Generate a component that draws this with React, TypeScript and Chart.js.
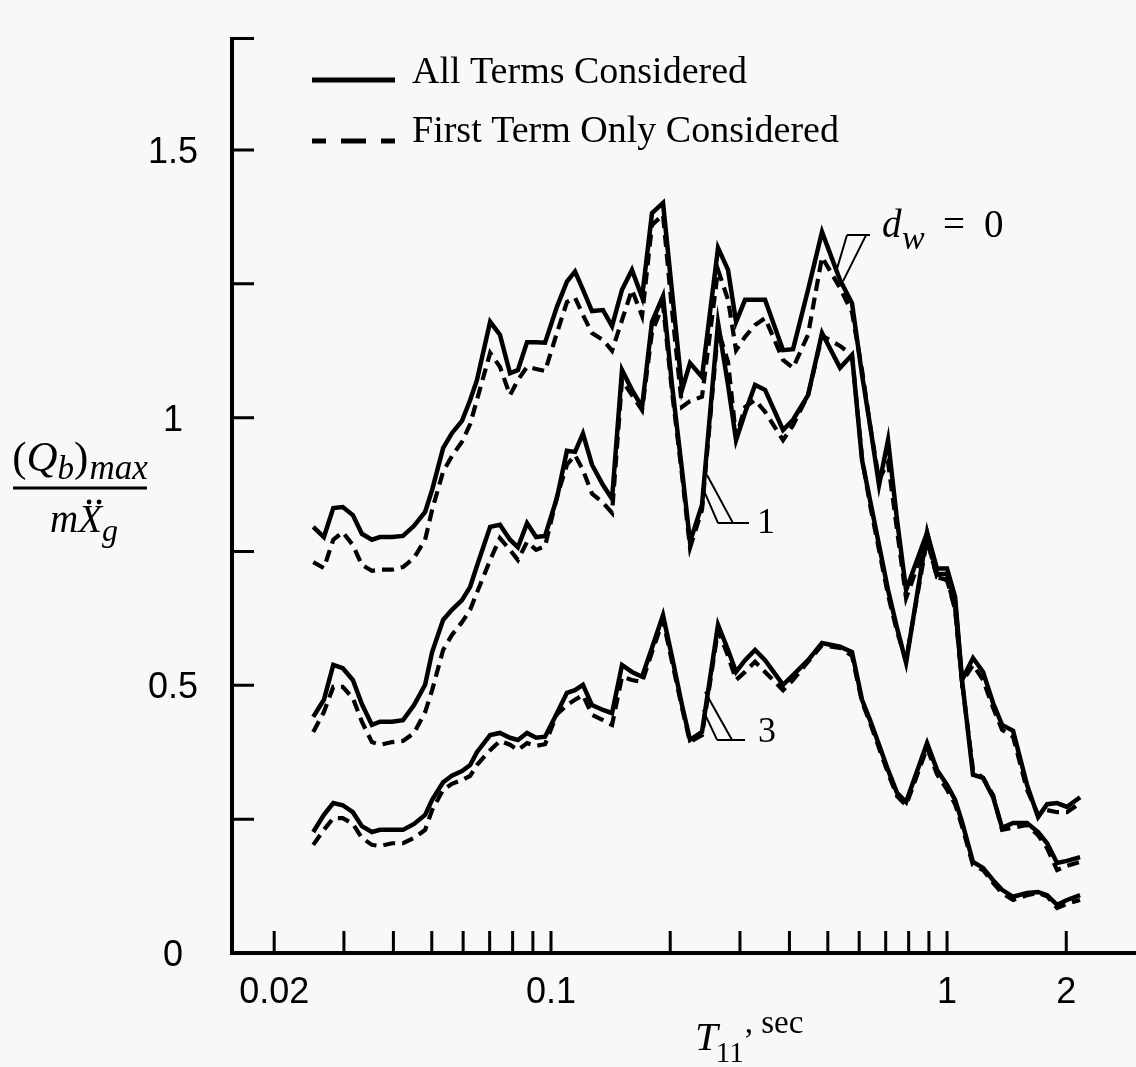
import React, { useEffect, useRef } from "react";
import { Chart, registerables } from "chart.js";

Chart.register(...registerables);

// ---------- data (period T11 in seconds, normalised base shear) ----------
const periods = [
  0.0251, 0.0267, 0.0282, 0.0298, 0.0316, 0.0333, 0.0353, 0.037, 0.0397, 0.0423,
  0.0451, 0.0481, 0.0501, 0.0534, 0.0562, 0.0596, 0.0625, 0.065, 0.0702, 0.0743,
  0.0788, 0.0825, 0.087, 0.0917, 0.0966, 0.1035, 0.1097, 0.115, 0.1204, 0.1269,
  0.1353, 0.1426, 0.1511, 0.1601, 0.1698, 0.1799, 0.1918, 0.2021, 0.2142, 0.2244,
  0.2406, 0.2641, 0.2799, 0.2933, 0.309, 0.3275, 0.3471, 0.3854, 0.4085, 0.4457,
  0.4834, 0.5368, 0.5755, 0.61, 0.6391, 0.6734, 0.7096, 0.7478, 0.788, 0.8903,
  0.9435, 1.0, 1.048, 1.091, 1.163, 1.233, 1.307, 1.377, 1.468, 1.592,
  1.698, 1.789, 1.896, 2.009, 2.167,
];

const allTermsDw0 = [
  0.796, 0.777, 0.831, 0.833, 0.818, 0.783, 0.772, 0.777, 0.777, 0.779,
  0.798, 0.824, 0.865, 0.943, 0.971, 0.994, 1.033, 1.07, 1.179, 1.155,
  1.083, 1.089, 1.141, 1.141, 1.14, 1.207, 1.254, 1.273, 1.239, 1.199,
  1.201, 1.171, 1.239, 1.276, 1.225, 1.382, 1.401, 1.235, 1.052, 1.102,
  1.076, 1.317, 1.276, 1.179, 1.22, 1.22, 1.22, 1.126, 1.128, 1.239,
  1.347, 1.257, 1.214, 1.08, 0.986, 0.874, 0.958, 0.809, 0.678, 0.785,
  0.718, 0.718, 0.665, 0.51, 0.551, 0.525, 0.467, 0.426, 0.415, 0.314,
  0.254, 0.278, 0.28, 0.273, 0.291,
];

const firstTermDw0 = [
  0.73, 0.719, 0.772, 0.786, 0.762, 0.725, 0.714, 0.716, 0.716, 0.721,
  0.738, 0.772, 0.828, 0.899, 0.928, 0.955, 0.988, 1.033, 1.121, 1.095,
  1.042, 1.07, 1.095, 1.091, 1.087, 1.158, 1.216, 1.224, 1.192, 1.158,
  1.145, 1.125, 1.182, 1.239, 1.19, 1.36, 1.379, 1.201, 1.02, 1.031,
  1.039, 1.276, 1.22, 1.126, 1.151, 1.173, 1.186, 1.108, 1.093, 1.155,
  1.3, 1.242, 1.197, 1.089, 0.986, 0.884, 0.917, 0.79, 0.663, 0.772,
  0.702, 0.697, 0.641, 0.506, 0.538, 0.51, 0.458, 0.417, 0.404, 0.305,
  0.258, 0.267, 0.263, 0.263, 0.28,
];

const allTermsDw1 = [
  0.441, 0.473, 0.538, 0.532, 0.51, 0.465, 0.426, 0.432, 0.432, 0.435,
  0.463, 0.501, 0.562, 0.622, 0.641, 0.659, 0.684, 0.723, 0.796, 0.8,
  0.772, 0.758, 0.803, 0.777, 0.779, 0.85, 0.938, 0.936, 0.97, 0.912,
  0.874, 0.848, 1.089, 1.052, 1.02, 1.179, 1.227, 1.061, 0.902, 0.768,
  0.837, 1.177, 1.061, 0.958, 1.009, 1.061, 1.052, 0.977, 0.996, 1.042,
  1.158, 1.093, 1.117, 0.921, 0.846, 0.762, 0.678, 0.607, 0.542, 0.785,
  0.708, 0.708, 0.655, 0.51, 0.333, 0.327, 0.291, 0.234, 0.243, 0.243,
  0.226, 0.205, 0.168, 0.172, 0.179,
];

const firstTermDw1 = [
  0.413, 0.45, 0.497, 0.497, 0.476, 0.432, 0.394, 0.389, 0.394, 0.396,
  0.411, 0.45, 0.491, 0.566, 0.594, 0.618, 0.641, 0.673, 0.734, 0.775,
  0.753, 0.734, 0.768, 0.753, 0.76, 0.852, 0.912, 0.93, 0.902, 0.858,
  0.841, 0.822, 1.07, 1.042, 1.014, 1.16, 1.211, 1.048, 0.893, 0.757,
  0.828, 1.164, 1.104, 0.964, 1.02, 1.033, 1.011, 0.958, 0.986, 1.042,
  1.153, 1.134, 1.117, 0.925, 0.837, 0.753, 0.669, 0.6, 0.547, 0.772,
  0.702, 0.697, 0.645, 0.506, 0.342, 0.327, 0.295, 0.23, 0.234, 0.239,
  0.22, 0.196, 0.155, 0.163, 0.17,
];

const allTermsDw3 = [
  0.226, 0.258, 0.28, 0.276, 0.263, 0.237, 0.226, 0.23, 0.23, 0.23,
  0.241, 0.258, 0.286, 0.319, 0.331, 0.34, 0.351, 0.375, 0.407, 0.411,
  0.402, 0.398, 0.411, 0.402, 0.404, 0.448, 0.486, 0.491, 0.501, 0.463,
  0.454, 0.448, 0.538, 0.525, 0.516, 0.57, 0.631, 0.553, 0.463, 0.398,
  0.413, 0.613, 0.566, 0.525, 0.547, 0.566, 0.547, 0.501, 0.519, 0.547,
  0.579, 0.572, 0.562, 0.473, 0.435, 0.389, 0.342, 0.299, 0.282, 0.392,
  0.342, 0.314, 0.286, 0.245, 0.17, 0.159, 0.136, 0.118, 0.105, 0.112,
  0.114, 0.108, 0.09, 0.099, 0.108,
];

const firstTermDw3 = [
  0.202, 0.23, 0.252, 0.252, 0.241, 0.215, 0.202, 0.2, 0.205, 0.205,
  0.215, 0.23, 0.267, 0.305, 0.316, 0.323, 0.331, 0.351, 0.379, 0.396,
  0.389, 0.379, 0.392, 0.387, 0.39, 0.446, 0.463, 0.473, 0.482, 0.445,
  0.435, 0.426, 0.516, 0.51, 0.506, 0.562, 0.622, 0.544, 0.458, 0.394,
  0.407, 0.603, 0.555, 0.51, 0.525, 0.544, 0.525, 0.491, 0.51, 0.544,
  0.575, 0.57, 0.555, 0.469, 0.43, 0.383, 0.336, 0.293, 0.276, 0.383,
  0.334, 0.305, 0.278, 0.237, 0.164, 0.155, 0.131, 0.112, 0.099, 0.108,
  0.112, 0.106, 0.084, 0.092, 0.099,
];

// ---------- axes ----------
const X_MIN = 0.01565;
const X_MAX = 3.0;
const Y_MIN = 0;
const Y_MAX = 1.711;

const yTickValues = [0.25, 0.5, 0.75, 1, 1.25, 1.5, Y_MAX];
const yLabelValues = [0, 0.5, 1, 1.5];
const yLabelTexts = ["0", "0.5", "1", "1.5"];
const xTickValues = [
  0.02, 0.03, 0.04, 0.05, 0.06, 0.07, 0.08, 0.09, 0.1,
  0.2, 0.3, 0.4, 0.5, 0.6, 0.7, 0.8, 0.9, 1, 2,
];
const xLabelValues = [0.02, 0.1, 1, 2];
const xLabelTexts = ["0.02", "0.1", "1", "2"];

const legendLabels = ["All Terms Considered", "First Term Only Considered"];

// ---------- annotations (data coordinates) ----------
const leaderDw0: number[][][] = [
  [[0.559, 1.341], [0.639, 1.341]],
  [[0.559, 1.341], [0.5244, 1.272]],
  [[0.6245, 1.341], [0.5463, 1.255]],
];
const labelDw0Anchor = [0.6853, 1.3376];

const leaderDw1: number[][][] = [
  [[0.2641, 0.803], [0.3162, 0.803]],
  [[0.2641, 0.803], [0.2448, 0.859]],
  [[0.2881, 0.803], [0.2477, 0.893]],
];
const labelDw1Anchor = [0.3313, 0.785];
const labelDw1Text = "1";

const leaderDw3: number[][][] = [
  [[0.2626, 0.398], [0.309, 0.398]],
  [[0.2626, 0.398], [0.2419, 0.454]],
  [[0.2865, 0.398], [0.2448, 0.488]],
];
const labelDw3Anchor = [0.3332, 0.394];
const labelDw3Text = "3";

const BG = "#f8f8f8";
const INK = "#000000";
const SERIF = "'Liberation Serif', 'Times New Roman', serif";
const SANS = "'Liberation Sans', Arial, sans-serif";

const pts = (ys: number[]) => periods.map((x, i) => ({ x, y: ys[i] }));

type Part = { t: string; font: string; y: number; kern?: number };

function partsWidth(ctx: CanvasRenderingContext2D, parts: Part[]) {
  let w = 0;
  for (const p of parts) {
    ctx.font = p.font;
    w += ctx.measureText(p.t).width + (p.kern || 0);
  }
  return w;
}

function drawParts(ctx: CanvasRenderingContext2D, parts: Part[], x0: number) {
  let x = x0;
  const starts: number[] = [];
  for (const p of parts) {
    ctx.font = p.font;
    ctx.textAlign = "left";
    ctx.textBaseline = "alphabetic";
    starts.push(x);
    ctx.fillText(p.t, x, p.y);
    x += ctx.measureText(p.t).width + (p.kern || 0);
  }
  return starts;
}

const overlayPlugin = {
  id: "overlay",
  beforeDraw(chart: any) {
    const ctx = chart.ctx as CanvasRenderingContext2D;
    ctx.save();
    ctx.fillStyle = BG;
    ctx.fillRect(0, 0, chart.width, chart.height);
    ctx.restore();
  },
  afterDraw(chart: any) {
    const ctx = chart.ctx as CanvasRenderingContext2D;
    const xs = chart.scales.x;
    const ys = chart.scales.y;
    const { left, right, top, bottom } = chart.chartArea;
    const px = (v: number) => xs.getPixelForValue(v);
    const py = (v: number) => ys.getPixelForValue(v);

    ctx.save();
    ctx.strokeStyle = INK;
    ctx.fillStyle = INK;
    ctx.lineCap = "butt";

    // axis lines
    ctx.lineWidth = 4;
    ctx.beginPath();
    ctx.moveTo(left, top);
    ctx.lineTo(left, py(0) + 2);
    ctx.moveTo(left - 2, py(0));
    ctx.lineTo(right, py(0));
    ctx.stroke();

    // inward ticks
    ctx.lineWidth = 3;
    ctx.beginPath();
    for (const v of yTickValues) {
      const y = Math.max(py(v), top + 1.5);
      ctx.moveTo(left, y);
      ctx.lineTo(left + 22, y);
    }
    for (const t of xTickValues) {
      const x = px(t);
      ctx.moveTo(x, bottom);
      ctx.lineTo(x, bottom - 22);
    }
    ctx.stroke();

    // tick labels
    ctx.font = `36px ${SANS}`;
    ctx.textAlign = "center";
    ctx.textBaseline = "alphabetic";
    yLabelValues.forEach((v, i) => {
      ctx.fillText(yLabelTexts[i], left - 59, py(v) + 13);
    });
    xLabelValues.forEach((t, i) => {
      ctx.fillText(xLabelTexts[i], px(t), bottom + 50);
    });

    // legend
    const lx0 = left + 80;
    const lx1 = left + 163;
    ctx.lineWidth = 5;
    ctx.beginPath();
    ctx.moveTo(lx0, top + 43);
    ctx.lineTo(lx1, top + 43);
    ctx.stroke();
    ctx.setLineDash([25, 15]);
    ctx.lineDashOffset = 11;
    ctx.beginPath();
    ctx.moveTo(lx0, top + 104);
    ctx.lineTo(lx1, top + 104);
    ctx.stroke();
    ctx.setLineDash([]);
    ctx.lineDashOffset = 0;
    ctx.font = `38px ${SERIF}`;
    ctx.textAlign = "left";
    ctx.fillText(legendLabels[0], left + 180, top + 46);
    ctx.fillText(legendLabels[1], left + 180, top + 105);

    // y-axis title: (Q_b)_max / m X.. _g
    const cx = 80;
    const num: Part[] = [
      { t: "(", font: `43px ${SERIF}`, y: 471 },
      { t: "Q", font: `italic 43px ${SERIF}`, y: 471 },
      { t: "b", font: `italic 33px ${SERIF}`, y: 479 },
      { t: ")", font: `43px ${SERIF}`, y: 471, kern: 1 },
      { t: "max", font: `italic 35px ${SERIF}`, y: 479 },
    ];
    const nw = partsWidth(ctx, num);
    drawParts(ctx, num, cx - nw / 2);
    ctx.lineWidth = 3;
    ctx.beginPath();
    ctx.moveTo(cx - 67, 488);
    ctx.lineTo(cx + 67, 488);
    ctx.stroke();
    const den: Part[] = [
      { t: "m", font: `italic 39px ${SERIF}`, y: 532 },
      { t: "X", font: `italic 39px ${SERIF}`, y: 532 },
      { t: "g", font: `italic 32px ${SERIF}`, y: 541 },
    ];
    const dw = partsWidth(ctx, den);
    const starts = drawParts(ctx, den, cx - dw / 2 + 4);
    ctx.font = `italic 39px ${SERIF}`;
    const wX = ctx.measureText("X").width;
    const dotCx = starts[1] + wX * 0.5 + 4;
    for (const dx of [-5, 5]) {
      ctx.beginPath();
      ctx.arc(dotCx + dx, 502, 2.4, 0, Math.PI * 2);
      ctx.fill();
    }

    // x-axis title: T_11, sec
    const xt: Part[] = [
      { t: "T", font: `italic 41px ${SERIF}`, y: 1050, kern: -2 },
      { t: "11", font: `29px ${SERIF}`, y: 1062, kern: 1 },
      { t: ", sec", font: `33px ${SERIF}`, y: 1033 },
    ];
    drawParts(ctx, xt, 695);

    // leader lines
    ctx.lineWidth = 2;
    ctx.beginPath();
    for (const seg of [...leaderDw0, ...leaderDw1, ...leaderDw3]) {
      ctx.moveTo(px(seg[0][0]), py(seg[0][1]));
      ctx.lineTo(px(seg[1][0]), py(seg[1][1]));
    }
    ctx.stroke();

    // d_w = 0
    const ax = px(labelDw0Anchor[0]);
    const ay = py(labelDw0Anchor[1]);
    ctx.textAlign = "left";
    ctx.font = `italic 39px ${SERIF}`;
    ctx.fillText("d", ax, ay);
    ctx.font = `italic 34px ${SERIF}`;
    ctx.fillText("w", ax + 20, ay + 12);
    ctx.font = `39px ${SERIF}`;
    ctx.fillText("=", ax + 61, ay);
    ctx.fillText("0", ax + 102, ay);

    // curve labels 1 and 3
    ctx.font = `36px ${SERIF}`;
    ctx.fillText(labelDw1Text, px(labelDw1Anchor[0]), py(labelDw1Anchor[1]));
    ctx.fillText(labelDw3Text, px(labelDw3Anchor[0]), py(labelDw3Anchor[1]));

    ctx.restore();
  },
};

export default function App() {
  const ref = useRef<HTMLCanvasElement | null>(null);

  useEffect(() => {
    document.body.style.margin = "0";
    document.body.style.background = BG;
    const canvas = ref.current;
    if (!canvas) return;

    const solid = { borderColor: INK, borderWidth: 4.5, pointRadius: 0, tension: 0, fill: false, borderJoinStyle: "miter" as const };
    const dashed = { ...solid, borderWidth: 4.2, borderDash: [12, 7] };

    const chart = new Chart(canvas, {
      type: "line",
      data: {
        datasets: [
          { label: "First Term Only, dw=0", data: pts(firstTermDw0), ...dashed },
          { label: "First Term Only, dw=1", data: pts(firstTermDw1), ...dashed },
          { label: "First Term Only, dw=3", data: pts(firstTermDw3), ...dashed },
          { label: "All Terms, dw=0", data: pts(allTermsDw0), ...solid },
          { label: "All Terms, dw=1", data: pts(allTermsDw1), ...solid },
          { label: "All Terms, dw=3", data: pts(allTermsDw3), ...solid },
        ] as any,
      },
      options: {
        animation: false,
        responsive: false,
        maintainAspectRatio: false,
        devicePixelRatio: 1,
        layout: { padding: { left: 232, right: 0, top: 37, bottom: 114 } },
        plugins: { legend: { display: false }, tooltip: { enabled: false } },
        events: [],
        scales: {
          x: { type: "logarithmic", min: X_MIN, max: X_MAX, bounds: "data", display: false },
          y: { type: "linear", min: Y_MIN, max: Y_MAX, bounds: "data", display: false },
        },
      } as any,
      plugins: [overlayPlugin],
    });
    return () => chart.destroy();
  }, []);

  return (
    <div style={{ position: "absolute", left: 0, top: 0, width: 1136, height: 1067, background: BG }}>
      <canvas ref={ref} width={1136} height={1067} style={{ display: "block" }} />
    </div>
  );
}
